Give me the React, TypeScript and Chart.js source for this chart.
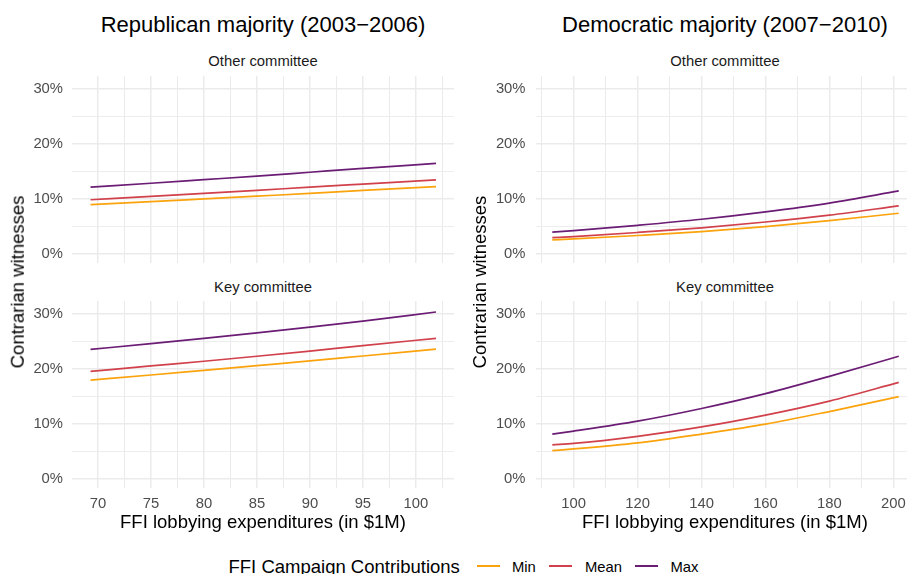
import React, { useEffect, useRef } from 'react';
import { Chart, registerables } from 'chart.js';

Chart.register(...registerables);

const FONT = '"Liberation Sans", Arial, Helvetica, sans-serif';
Chart.defaults.font.family = FONT;

// Series (FFI campaign contributions level)
const seriesNames = ['Min', 'Mean', 'Max'];
const seriesColors = ['#FBA30C', '#D1414B', '#6B1C74'];

// FFI lobbying expenditures (in $1M), sampled along each fitted curve
const lobbyingRep = [69.3, 75, 80, 85, 90, 95, 101.9];
const lobbyingDem = [93.3, 100, 120, 140, 160, 180, 201.7];

// Predicted share of contrarian witnesses (%), Republican majority (2003-2006)
const repOtherMin = [9.0, 9.55, 10.05, 10.55, 11.05, 11.6, 12.3];
const repOtherMean = [9.9, 10.5, 11.05, 11.6, 12.2, 12.75, 13.5];
const repOtherMax = [12.2, 12.9, 13.55, 14.2, 14.9, 15.6, 16.5];

const repKeyMin = [18.0, 18.95, 19.8, 20.65, 21.5, 22.4, 23.65];
const repKeyMean = [19.6, 20.6, 21.45, 22.35, 23.3, 24.3, 25.6];
const repKeyMax = [23.6, 24.65, 25.6, 26.6, 27.65, 28.75, 30.4];

// Predicted share of contrarian witnesses (%), Democratic majority (2007-2010)
const demOtherMin = [2.6, 2.78, 3.4, 4.1, 5.0, 6.1, 7.45];
const demOtherMean = [3.0, 3.2, 3.95, 4.8, 5.85, 7.1, 8.8];
const demOtherMax = [4.0, 4.27, 5.25, 6.35, 7.7, 9.3, 11.5];

const demKeyMin = [5.2, 5.5, 6.6, 8.2, 10.0, 12.3, 15.0];
const demKeyMean = [6.25, 6.5, 7.8, 9.5, 11.65, 14.2, 17.6];
const demKeyMax = [8.2, 8.75, 10.55, 12.85, 15.55, 18.7, 22.35];

// Axis ranges and breaks
const yRange = [-1.6, 32.4];
const yMinorStep = 5;
const yMajorStep = 10;
const repXRange = [67.55, 103.6];
const repXMinorStep = 2.5;
const repXMajorStep = 5;
const demXRange = [88.2, 207.1];
const demXMinorStep = 10;
const demXMajorStep = 20;

const GRID = '#EBEBEB';
const TICK_COLOR = '#4D4D4D';
const TEXT = '#1A1A1A';

function isMajor(v: number, step: number) {
  const r = Math.abs(v / step - Math.round(v / step));
  return r < 1e-6;
}

type PanelProps = {
  left: number;
  top: number;
  width: number;
  height: number;
  yAxisWidth: number;
  yPad: number;
  xAxisHeight: number;
  showXLabels: boolean;
  xRange: number[];
  xMinorStep: number;
  xMajorStep: number;
  xs: number[];
  series: number[][];
};

function Panel(p: PanelProps) {
  const ref = useRef<HTMLCanvasElement | null>(null);

  useEffect(() => {
    if (!ref.current) return;
    const resetPadding = (s: any) => {
      s.paddingTop = 0;
      s.paddingBottom = 0;
      s.paddingLeft = 0;
      s.paddingRight = 0;
    };
    const chart = new Chart(ref.current, {
      type: 'line',
      data: {
        datasets: p.series.map((ys, i) => ({
          label: seriesNames[i],
          data: p.xs.map((x, j) => ({ x, y: ys[j] })),
          borderColor: seriesColors[i],
          backgroundColor: seriesColors[i],
          borderWidth: 1.7,
          pointRadius: 0,
          cubicInterpolationMode: 'monotone',
          fill: false,
        })),
      },
      options: {
        animation: false,
        responsive: false,
        devicePixelRatio: 1,
        events: [],
        layout: { padding: 0 },
        plugins: {
          legend: { display: false },
          tooltip: { enabled: false },
          title: { display: false },
        },
        scales: {
          x: {
            type: 'linear',
            min: p.xRange[0],
            max: p.xRange[1],
            border: { display: false },
            grid: {
              drawTicks: false,
              color: GRID,
              lineWidth: (ctx: any) =>
                ctx.tick && isMajor(ctx.tick.value, p.xMajorStep) ? 1.5 : 1,
            },
            ticks: {
              display: p.showXLabels,
              stepSize: p.xMinorStep,
              includeBounds: false,
              autoSkip: false,
              maxRotation: 0,
              padding: 7.5,
              color: TICK_COLOR,
              font: { family: FONT, size: 14.8 },
              callback: (v: any) => (isMajor(Number(v), p.xMajorStep) ? String(Math.round(Number(v))) : ''),
            },
            afterFit: (s: any) => {
              s.height = p.xAxisHeight;
              resetPadding(s);
            },
          },
          y: {
            type: 'linear',
            min: yRange[0],
            max: yRange[1],
            border: { display: false },
            grid: {
              drawTicks: false,
              color: GRID,
              lineWidth: (ctx: any) =>
                ctx.tick && isMajor(ctx.tick.value, yMajorStep) ? 1.6 : 0.9,
            },
            ticks: {
              stepSize: yMinorStep,
              includeBounds: false,
              autoSkip: false,
              padding: p.yPad,
              color: TICK_COLOR,
              font: { family: FONT, size: 14.8 },
              callback: (v: any) => (isMajor(Number(v), yMajorStep) ? `${Math.round(Number(v))}%` : ''),
            },
            afterFit: (s: any) => {
              s.width = p.yAxisWidth;
              resetPadding(s);
            },
          },
        },
      } as any,
    });
    return () => chart.destroy();
  }, []);

  return (
    <canvas
      ref={ref}
      width={p.width}
      height={p.height}
      style={{ position: 'absolute', left: p.left, top: p.top, width: p.width, height: p.height }}
    />
  );
}

function Label(props: { x: number; y: number; size: number; color?: string; rotate?: boolean; anchor?: 'left' | 'center'; children: React.ReactNode }) {
  const tx = props.anchor === 'left' ? '0' : '-50%';
  return (
    <div
      style={{
        position: 'absolute',
        left: props.x,
        top: props.y,
        fontSize: props.size,
        lineHeight: 1,
        whiteSpace: 'nowrap',
        color: props.color || '#000',
        transform: `translate(${tx}, -50%)${props.rotate ? ' rotate(-90deg)' : ''}`,
        transformOrigin: props.rotate ? 'center center' : undefined,
      }}
    >
      {props.children}
    </div>
  );
}

export default function App() {
  const xTitle = 'FFI lobbying expenditures (in $1M)';
  const yTitle = 'Contrarian witnesses';
  const legendKeys = [
    { line: 477, text: 512 },
    { line: 549, text: 585 },
    { line: 635, text: 670.5 },
  ];

  return (
    <div
      style={{
        position: 'absolute',
        left: 0,
        top: 0,
        width: 907,
        height: 574,
        overflow: 'hidden',
        background: '#fff',
        fontFamily: FONT,
      }}
    >
      {/* Column titles */}
      <Label x={263} y={25} size={22}>Republican majority (2003−2006)</Label>
      <Label x={725} y={25} size={22}>Democratic majority (2007−2010)</Label>

      {/* Facet strips */}
      <Label x={263} y={61} size={14.8} color={TEXT}>Other committee</Label>
      <Label x={263} y={287} size={14.8} color={TEXT}>Key committee</Label>
      <Label x={725} y={61} size={14.8} color={TEXT}>Other committee</Label>
      <Label x={725} y={287} size={14.8} color={TEXT}>Key committee</Label>

      {/* Panels */}
      <Panel left={0} top={76} width={454} height={187} yAxisWidth={72} yPad={9} xAxisHeight={0}
        showXLabels={false} xRange={repXRange} xMinorStep={repXMinorStep} xMajorStep={repXMajorStep}
        xs={lobbyingRep} series={[repOtherMin, repOtherMean, repOtherMax]} />
      <Panel left={0} top={301} width={454} height={213} yAxisWidth={72} yPad={9} xAxisHeight={26}
        showXLabels={true} xRange={repXRange} xMinorStep={repXMinorStep} xMajorStep={repXMajorStep}
        xs={lobbyingRep} series={[repKeyMin, repKeyMean, repKeyMax]} />
      <Panel left={464} top={76} width={452} height={187} yAxisWidth={72} yPad={10.5} xAxisHeight={0}
        showXLabels={false} xRange={demXRange} xMinorStep={demXMinorStep} xMajorStep={demXMajorStep}
        xs={lobbyingDem} series={[demOtherMin, demOtherMean, demOtherMax]} />
      <Panel left={464} top={301} width={452} height={213} yAxisWidth={72} yPad={10.5} xAxisHeight={26}
        showXLabels={true} xRange={demXRange} xMinorStep={demXMinorStep} xMajorStep={demXMajorStep}
        xs={lobbyingDem} series={[demKeyMin, demKeyMean, demKeyMax]} />

      {/* Axis titles */}
      <Label x={263} y={522} size={18.5}>{xTitle}</Label>
      <Label x={725} y={522} size={18.5}>{xTitle}</Label>
      <Label x={17.5} y={282} size={18.5} rotate>{yTitle}</Label>
      <Label x={480} y={282} size={18.5} rotate>{yTitle}</Label>

      {/* Legend */}
      <Label x={228.5} y={566.5} size={18.5} anchor="left">FFI Campaign Contributions</Label>
      {seriesNames.map((name, i) => (
        <React.Fragment key={name}>
          <div
            style={{
              position: 'absolute',
              left: legendKeys[i].line,
              top: 564.8,
              width: 23,
              height: 1.8,
              background: seriesColors[i],
            }}
          />
          <Label x={legendKeys[i].text} y={566.5} size={14.8} anchor="left">{name}</Label>
        </React.Fragment>
      ))}
    </div>
  );
}
